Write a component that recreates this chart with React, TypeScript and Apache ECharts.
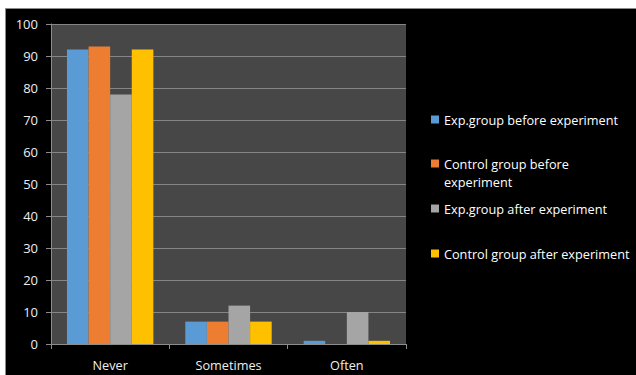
import React, { useEffect, useRef } from "react";
import * as echarts from "echarts";

const categories = ["Never", "Sometimes", "Often"];
const seriesNames = [
  "Exp.group before experiment",
  "Control group before experiment",
  "Exp.group after experiment",
  "Control group after experiment",
];
const expBefore = [92, 7, 1];
const controlBefore = [93, 7, 0];
const expAfter = [78, 12, 10];
const controlAfter = [92, 7, 1];
const seriesValues = [expBefore, controlBefore, expAfter, controlAfter];
const seriesColors = ["#5B9BD5", "#ED7D31", "#A5A5A5", "#FFC000"];
const legendTops = [113, 157, 202, 247];

const FONT = "'Open Sans', 'Noto Sans', sans-serif";
const TEXT_SIZE = 12.7;

export default function App() {
  const ref = useRef<HTMLDivElement>(null);

  useEffect(() => {
    if (!ref.current) return;
    const chart = echarts.init(ref.current, undefined, { renderer: "svg" });

    const legends = seriesNames.map((name, i) => ({
      data: [name],
      left: 431,
      top: legendTops[i],
      padding: 0,
      itemWidth: 8,
      itemHeight: 8,
      itemGap: 0,
      itemStyle: { borderWidth: 0 },
      icon: "rect",
      selectedMode: false,
      formatter: (n: string) =>
        n === "Control group before experiment" ? "Control group before" : n,
      textStyle: { color: "#ffffff", fontSize: TEXT_SIZE, fontFamily: FONT },
    }));

    chart.setOption({
      animation: false,
      backgroundColor: "#ffffff",
      graphic: [
        {
          type: "rect",
          z: -10,
          silent: true,
          shape: { x: 5.5, y: 8.5, width: 632, height: 368 },
          style: { fill: "#000000", stroke: "#8a8a8a", lineWidth: 1 },
        },
        {
          type: "text",
          left: 444,
          top: 175,
          silent: true,
          style: {
            text: "experiment",
            fill: "#ffffff",
            fontSize: TEXT_SIZE,
            fontFamily: FONT,
          },
        },
      ],
      legend: legends,
      grid: {
        left: 51,
        right: 230,
        top: 24,
        bottom: 31,
        show: true,
        backgroundColor: "#474747",
        borderWidth: 0,
        containLabel: false,
      },
      xAxis: {
        type: "category",
        data: categories,
        axisLine: { show: true, lineStyle: { color: "#8c8c8c", width: 1 } },
        axisTick: {
          show: true,
          alignWithLabel: false,
          length: 5,
          lineStyle: { color: "#8c8c8c" },
        },
        axisLabel: {
          color: "#eeeeee",
          fontSize: TEXT_SIZE,
          fontFamily: FONT,
          margin: 14,
        },
        splitLine: { show: false },
      },
      yAxis: {
        type: "value",
        min: 0,
        max: 100,
        interval: 10,
        axisLine: { show: true, lineStyle: { color: "#8c8c8c", width: 1 } },
        axisTick: { show: true, length: 5, lineStyle: { color: "#8c8c8c" } },
        axisLabel: {
          color: "#eeeeee",
          fontSize: 13,
          fontFamily: FONT,
          margin: 13,
        },
        splitLine: { show: true, lineStyle: { color: "#858585", width: 1 } },
      },
      series: seriesNames.map((name, i) => ({
        name,
        type: "bar",
        data: seriesValues[i],
        barGap: "0%",
        barCategoryGap: "27%",
        itemStyle: { color: seriesColors[i] },
      })),
    });

    return () => chart.dispose();
  }, []);

  return (
    <div
      style={{
        position: "fixed",
        left: 0,
        top: 0,
        width: 636,
        height: 375,
        background: "#ffffff",
      }}
    >
      <div ref={ref} style={{ width: 636, height: 375 }} />
    </div>
  );
}
